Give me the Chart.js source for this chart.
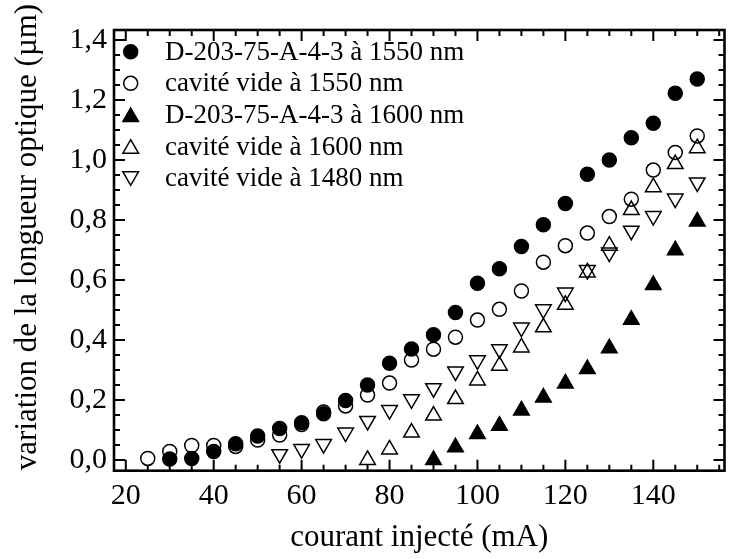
<!DOCTYPE html>
<html><head><meta charset="utf-8">
<script src="https://cdn.jsdelivr.net/npm/chart.js@4/dist/chart.umd.min.js"></script>
<style>html,body{margin:0;padding:0;background:#fff;}canvas{display:block;}</style>
</head><body>
<canvas id="c" width="735" height="559"></canvas>
<script>
// ---- data ----
const currents = [25,30,35,40,45,50,55,60,65,70,75,80,85,90,95,100,105,110,115,120,125,130,135,140,145,150];
const d203_1550 = [null,0.003,0.005,0.028,0.054,0.080,0.105,0.124,0.154,0.198,0.250,0.322,0.370,0.417,0.491,0.589,0.637,0.711,0.784,0.855,0.952,1.000,1.074,1.122,1.222,1.270];
const vide_1550 = [0.005,0.028,0.048,0.048,0.045,0.066,0.083,0.118,0.160,0.180,0.216,0.256,0.333,0.369,0.409,0.466,0.502,0.563,0.659,0.714,0.756,0.811,0.869,0.966,1.025,1.080];
const d203_1600 = [null,null,null,null,null,null,null,null,null,null,null,null,null,0.0,0.042,0.086,0.114,0.165,0.208,0.255,0.303,0.372,0.467,0.583,0.699,0.795];
const vide_1600 = [null,null,null,null,null,null,null,null,null,null,0.0,0.035,0.091,0.148,0.203,0.265,0.314,0.375,0.442,0.517,0.625,0.714,0.833,0.909,0.986,1.039];
const vide_1480 = [null,null,null,null,null,null,0.019,0.036,0.053,0.091,0.130,0.166,0.202,0.239,0.295,0.332,0.369,0.441,0.502,0.558,0.633,0.691,0.764,0.813,0.871,0.925];
const seriesLabels = ["D-203-75-A-4-3 à 1550 nm","cavité vide à 1550 nm","D-203-75-A-4-3 à 1600 nm","cavité vide à 1600 nm","cavité vide à 1480 nm"];
const xTickValues = [20,40,60,80,100,120,140];
const yTickValues = [0,0.2,0.4,0.6,0.8,1.0,1.2,1.4];
const xMinorStep = 5;
const yMinorStep = 0.05;
const xTitle = "courant injecté (mA)";
const yTitle = "variation de la longueur optique (µm)";

const FONT = "'Liberation Serif', 'Times New Roman', serif";

function pts(series){
  const out = [];
  currents.forEach((c,i)=>{ if(series[i]!==null && series[i]!==undefined) out.push({x:c,y:series[i]}); });
  return out;
}
function ds(label, series, style, filled, radius, rotation){
  return {
    label, data: pts(series), showLine:false,
    pointStyle: style, pointRadius: radius, pointHoverRadius: radius,
    pointRotation: rotation||0,
    pointBackgroundColor: filled ? '#000' : 'rgba(0,0,0,0)',
    pointBorderColor: '#000', pointBorderWidth: 1.5,
    backgroundColor: filled ? '#000' : 'rgba(0,0,0,0)', borderColor:'#000'
  };
}
const datasets = [
  ds(seriesLabels[0], d203_1550, 'circle', true, 7),
  ds(seriesLabels[1], vide_1550, 'circle', false, 7),
  ds(seriesLabels[2], d203_1600, 'triangle', true, 9),
  ds(seriesLabels[3], vide_1600, 'triangle', false, 9),
  ds(seriesLabels[4], vide_1480, 'triangle', false, 9, 180)
];

const framePlugin = {
  id:'frame',
  afterDatasetsDraw(chart){
    const {ctx, chartArea:a, scales} = chart;
    const x = scales.x, y = scales.y;
    ctx.save();
    ctx.strokeStyle = '#000';
    ctx.lineWidth = 2;
    ctx.lineCap = 'butt';
    ctx.beginPath();
    const k0 = Math.ceil(x.min / xMinorStep), k1 = Math.floor(x.max / xMinorStep);
    for (let k = k0; k <= k1; k++) {
      const v = k * xMinorStep;
      const px = x.getPixelForValue(v);
      const len = (v % 20 === 0) ? 11 : 6;
      ctx.moveTo(px, a.bottom); ctx.lineTo(px, a.bottom - len);
      ctx.moveTo(px, a.top); ctx.lineTo(px, a.top + len);
    }
    const j0 = Math.ceil(y.min / yMinorStep - 1e-9), j1 = Math.floor(y.max / yMinorStep + 1e-9);
    for (let j = j0; j <= j1; j++) {
      const py = y.getPixelForValue(j * yMinorStep);
      const len = (j % 4 === 0) ? 11 : 6;
      ctx.moveTo(a.left, py); ctx.lineTo(a.left + len, py);
      ctx.moveTo(a.right, py); ctx.lineTo(a.right - len, py);
    }
    ctx.stroke();
    ctx.lineWidth = 2.6;
    ctx.strokeRect(a.left, a.top, a.right - a.left, a.bottom - a.top);
    ctx.restore();
  }
};

const legendPlugin = {
  id:'innerLegend',
  afterDraw(chart){
    const {ctx, chartArea:a} = chart;
    ctx.save();
    chart.data.datasets.forEach((d,i)=>{
      const cy = a.top + 21.7 + i * 31.65;
      const tri = d.pointStyle === 'triangle';
      const my = tri ? cy + (d.pointRotation ? -2 : 2) : cy;
      ctx.fillStyle = d.pointBackgroundColor;
      ctx.strokeStyle = d.pointBorderColor;
      ctx.lineWidth = d.pointBorderWidth;
      Chart.helpers.drawPoint(ctx, {pointStyle:d.pointStyle, radius:d.pointRadius, rotation:d.pointRotation, borderWidth:d.pointBorderWidth}, a.left + 16.7, my);
      ctx.fillStyle = '#000';
      ctx.font = "27px " + FONT;
      ctx.textAlign = 'left';
      ctx.textBaseline = 'alphabetic';
      ctx.fillText(d.label, a.left + 51, cy + 8);
    });
    // y-axis title
    ctx.translate(28, 237);
    ctx.rotate(-Math.PI / 2);
    ctx.font = "31px " + FONT;
    ctx.textAlign = 'center';
    ctx.textBaseline = 'middle';
    ctx.fillText(yTitle, 0, 0);
    ctx.restore();
  }
};

new Chart(document.getElementById('c'), {
  type:'scatter',
  data:{datasets},
  options:{
    responsive:false, animation:false, devicePixelRatio:1, events:[],
    layout:{padding:{top:30, right:-2, bottom:0, left:0}},
    plugins:{legend:{display:false}, tooltip:{enabled:false}},
    scales:{
      x:{
        type:'linear', min:17.32, max:156.2,
        grid:{display:false, drawTicks:false}, border:{display:false},
        afterBuildTicks(s){ s.ticks = xTickValues.map(v=>({value:v})); },
        afterFit(s){ s.height = 88.3; },
        ticks:{color:'#000', font:{family:FONT, size:30}, padding:7, maxRotation:0, autoSkip:false},
        title:{display:true, text:xTitle, color:'#000', font:{family:FONT, size:31}, padding:3}
      },
      y:{
        type:'linear', min:-0.036, max:1.433,
        grid:{display:false, drawTicks:false}, border:{display:false},
        afterBuildTicks(s){ s.ticks = yTickValues.map(v=>({value:v})); },
        afterFit(s){ s.width = 114; },
        ticks:{color:'#000', font:{family:FONT, size:30}, padding:7, autoSkip:false,
          callback:(v)=> Number(v).toFixed(1).replace('.', ',')},
        title:{display:false}
      }
    }
  },
  plugins:[framePlugin, legendPlugin]
});
</script>
</body></html>
